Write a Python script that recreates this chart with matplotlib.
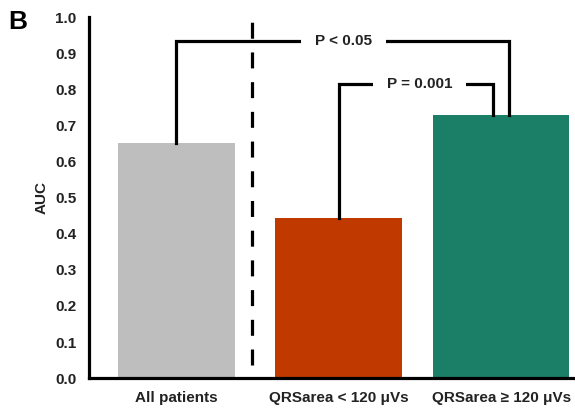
import matplotlib.pyplot as plt

plt.rcParams["font.family"] = ["Liberation Sans", "DejaVu Sans"]
plt.rcParams["font.weight"] = "bold"

# AUC per group
categories = ["All patients", "QRSarea < 120 \u03bcVs", "QRSarea \u2265 120 \u03bcVs"]
auc = [0.65, 0.443, 0.728]
colors = ["#BEBEBE", "#C03A00", "#1B7F68"]
widths = [0.72, 0.78, 0.84]
yticks = [0.0, 0.1, 0.2, 0.3, 0.4, 0.5, 0.6, 0.7, 0.8, 0.9, 1.0]

# significance brackets: (from bar, to bar, height, label, label x, end x)
brackets = [
    (0, 2, 0.933, "P < 0.05", 1.03, 2.05),
    (1, 2, 0.814, "P = 0.001", 1.50, 1.95),
]


def main():
    fig = plt.figure(figsize=(5.75, 4.11), dpi=100)
    ax = fig.add_axes([0.155, 0.080, 0.845, 0.8785])

    x = list(range(len(categories)))
    ax.bar(x, auc, width=widths, color=colors, zorder=2)

    ax.set_xlim(-0.535, 2.455)
    ax.set_ylim(0, 1.0)
    ax.set_yticks(yticks)
    ax.set_yticklabels([f"{v:.1f}" for v in yticks], fontsize=11, fontweight="bold",
                       color="#222222")
    ax.set_xticks(x)
    ax.set_xticklabels(categories, fontsize=11, fontweight="bold", color="#222222")
    ax.tick_params(axis="y", length=0, pad=9)
    ax.tick_params(axis="x", length=0, pad=9)
    ax.set_ylabel("AUC", fontsize=11, fontweight="bold", labelpad=5, color="#222222")

    for side in ["top", "right"]:
        ax.spines[side].set_visible(False)
    for side in ["left", "bottom"]:
        ax.spines[side].set_linewidth(2.3)

    # dashed separator
    ax.plot([0.468, 0.468], [0.035, 1.0], color="black", lw=2.3,
            linestyle=(0, (5, 4.3)), zorder=3, clip_on=False)

    # brackets
    for i, j, h, label, lx, ex in brackets:
        ax.plot([i, i, ex, ex], [auc[i], h, h, auc[j]], color="black",
                lw=2.3, solid_joinstyle="miter", zorder=4, clip_on=False)
        ax.text(lx, h, label, ha="center", va="center", fontsize=11,
                fontweight="bold", color="#222222", zorder=5,
                bbox=dict(facecolor="white", edgecolor="none", pad=10))

    fig.text(0.015, 0.93, "B", fontsize=19, fontweight="bold")

    fig.savefig("out.png", dpi=100)
    plt.close(fig)


if __name__ == "__main__":
    main()
